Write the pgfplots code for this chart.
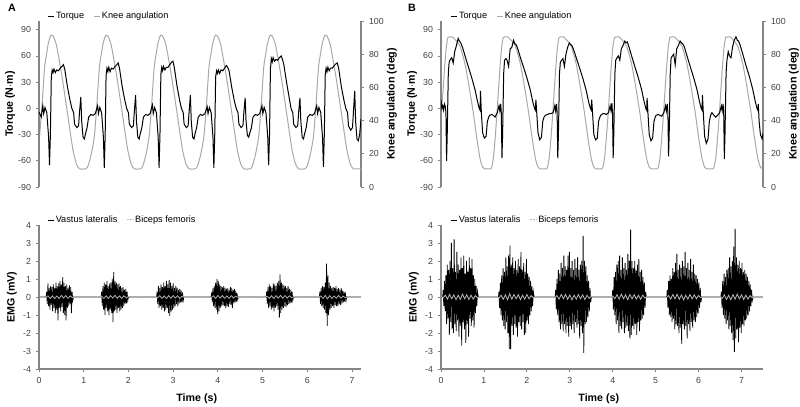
\documentclass[border=0pt]{standalone}
\usepackage{pgfplots}
\pgfplotsset{compat=1.18}
\usepackage{fontspec}
\setmainfont{Liberation Sans}
\definecolor{axgray}{RGB}{134,134,134}
\definecolor{tickgray}{RGB}{64,64,64}
\definecolor{anggray}{RGB}{168,168,168}
\definecolor{bfgray}{RGB}{185,185,185}
\pgfplotsset{
  panel/.style={scale only axis, width=241.5pt,
    axis line style={draw=axgray, line width=0.9pt, -},
    tick style={draw=axgray, line width=0.6pt},
    major tick length=2.5pt, tick align=outside,
    tick label style={font=\fontsize{6.6}{7}\selectfont, text=tickgray},
    label style={font=\bfseries\fontsize{8}{9.6}\selectfont},
    /pgf/number format/assume math mode=true,
    legend columns=2,
    legend style={draw=none, fill=none, font=\fontsize{6.9}{7.5}\selectfont,
      /tikz/every even column/.append style={column sep=6pt}, inner sep=0pt, anchor=west,
      nodes={inner sep=0.8pt}},
    legend image code/.code={\draw[##1] (0pt,0pt) -- (5pt,0pt);},
  },
  toppanel/.style={panel, height=124.5pt, axis x line=none},
  botpanel/.style={panel, height=108pt, axis y line*=left, axis x line*=bottom,
    ymin=-4, ymax=4, ytick={-4,-3,...,4}, xtick={0,1,...,7},
    ylabel={EMG (mV)}, xlabel={Time (s)},
    ylabel style={at={(axis description cs:-0.084,0.5)}, anchor=center},
    xlabel style={at={(axis description cs:0.49,-0.205)}, anchor=center},
    legend style={at={(axis description cs:0.025,1.035)}}},
}
\begin{document}
\begin{tikzpicture}
\useasboundingbox (0,0) rectangle (600pt,305.25pt);
% ================= Panel A top =================
\begin{axis}[toppanel, at={(29.25pt,165pt)}, anchor=south west,
  xmin=0, xmax=7.2, ymin=0, ymax=100, ytick={0,20,...,100},
  axis y line*=right, ylabel={Knee angulation (deg)},
  ylabel style={at={(axis description cs:1.096,0.5)}, anchor=center}]
\addplot[anggray, line width=0.75pt, smooth, tension=0.4] coordinates {
(0,28) (0.015,31) (0.075,52) (0.125,72) (0.175,81) (0.205,86) (0.245,90) (0.275,91.5) (0.315,91) (0.385,86) (0.455,76) (0.535,63) (0.645,43) (0.755,23) (0.835,14) (0.905,11)
(1.05,11) (1.10,13) (1.17,20) (1.24,31) (1.30,52) (1.35,72) (1.40,81) (1.43,86) (1.47,90) (1.50,91.5) (1.54,91) (1.61,86) (1.68,76) (1.76,63) (1.87,43) (1.98,23) (2.06,14) (2.13,11)
(2.275,11) (2.325,13) (2.395,20) (2.465,31) (2.525,52) (2.575,72) (2.625,81) (2.655,86) (2.695,90) (2.725,91.5) (2.765,91) (2.835,86) (2.905,76) (2.985,63) (3.095,43) (3.205,23) (3.285,14) (3.355,11)
(3.50,11) (3.55,13) (3.62,20) (3.69,31) (3.75,52) (3.80,72) (3.85,81) (3.88,86) (3.92,90) (3.95,91.5) (3.99,91) (4.06,86) (4.13,76) (4.21,63) (4.32,43) (4.43,23) (4.51,14) (4.58,11)
(4.725,11) (4.775,13) (4.845,20) (4.915,31) (4.975,52) (5.025,72) (5.075,81) (5.105,86) (5.145,90) (5.175,91.5) (5.215,91) (5.285,86) (5.355,76) (5.435,63) (5.545,43) (5.655,23) (5.735,14) (5.805,11)
(5.95,11) (6.00,13) (6.07,20) (6.14,31) (6.20,52) (6.25,72) (6.30,81) (6.33,86) (6.37,90) (6.40,91.5) (6.44,91) (6.51,86) (6.58,76) (6.66,63) (6.77,43) (6.88,23) (6.96,14) (7.03,11) (7.20,11)
};
\end{axis}
\begin{axis}[toppanel, at={(29.25pt,165pt)}, anchor=south west,
  xmin=0, xmax=7.2, ymin=-90, ymax=100, ytick={-90,-60,...,90},
  axis y line*=left, ylabel={Torque (N$\cdot$m)},
  ylabel style={at={(axis description cs:-0.09,0.5)}, anchor=center},
  legend style={at={(axis description cs:0.025,1.03)}}]
\addplot[black, line width=0.75pt] coordinates {
(0,-4) (0.05,-10) (0.085,3) (0.105,-6) (0.135,1) (0.175,-5) (0.215,-33) (0.235,-65) (0.255,-30) (0.275,36) (0.295,44) (0.315,41) (0.335,45) (0.365,41) (0.395,44) (0.435,43) (0.475,46) (0.515,48) (0.545,50) (0.575,45) (0.635,25) (0.695,9) (0.735,0) (0.775,-5) (0.795,-18) (0.845,-22) (0.885,-20) (0.905,-5) (0.935,13) (0.955,-15) (0.985,-33) (1.015,-35) (1.035,-30) (1.075,-22)
(1.11,-10) (1.16,-7) (1.21,-8) (1.26,-6) (1.31,3) (1.33,-6) (1.36,1) (1.40,-5) (1.44,-33) (1.46,-68) (1.48,-30) (1.50,38) (1.52,46) (1.54,42) (1.56,47) (1.59,42) (1.62,46) (1.66,45) (1.70,48) (1.74,50) (1.77,52) (1.80,46) (1.86,25) (1.92,9) (1.96,0) (2.00,-5) (2.02,-18) (2.07,-22) (2.11,-20) (2.13,-5) (2.16,15) (2.18,-15) (2.21,-33) (2.24,-35) (2.26,-30) (2.30,-22)
(2.335,-10) (2.385,-7) (2.435,-8) (2.485,-6) (2.535,4) (2.555,-6) (2.585,1) (2.625,-5) (2.665,-33) (2.685,-68) (2.705,-30) (2.725,39) (2.745,47) (2.765,43) (2.785,48) (2.815,44) (2.845,47) (2.885,47) (2.925,50) (2.965,53) (2.995,54) (3.025,47) (3.085,26) (3.145,9) (3.185,0) (3.225,-5) (3.245,-18) (3.295,-22) (3.335,-20) (3.355,-5) (3.385,15) (3.405,-15) (3.435,-33) (3.465,-35) (3.485,-30) (3.525,-22)
(3.56,-10) (3.61,-7) (3.66,-8) (3.71,-6) (3.76,2) (3.78,-6) (3.81,1) (3.85,-5) (3.89,-33) (3.91,-68) (3.93,-30) (3.95,36) (3.97,43) (3.99,40) (4.01,44) (4.04,40) (4.07,44) (4.11,43) (4.15,46) (4.19,49) (4.22,47) (4.25,43) (4.31,24) (4.37,8) (4.41,0) (4.45,-5) (4.47,-18) (4.52,-22) (4.56,-20) (4.58,-5) (4.61,12) (4.63,-15) (4.66,-31) (4.69,-33) (4.71,-29) (4.75,-22)
(4.785,-10) (4.835,-7) (4.885,-8) (4.935,-6) (4.985,3) (5.005,-6) (5.035,1) (5.075,-5) (5.115,-33) (5.135,-65) (5.155,-30) (5.175,45) (5.195,57) (5.215,53) (5.235,58) (5.265,54) (5.295,56) (5.335,55) (5.375,58) (5.415,60) (5.445,56) (5.475,50) (5.535,30) (5.595,12) (5.635,0) (5.675,-5) (5.695,-18) (5.745,-22) (5.785,-20) (5.805,-5) (5.835,12) (5.855,-15) (5.885,-33) (5.915,-35) (5.935,-30) (5.975,-22)
(6.01,-10) (6.06,-7) (6.11,-8) (6.16,-6) (6.21,3) (6.23,-6) (6.26,1) (6.30,-5) (6.34,-33) (6.36,-67) (6.38,-30) (6.40,38) (6.42,46) (6.44,42) (6.46,47) (6.49,43) (6.52,46) (6.56,46) (6.60,49) (6.64,51) (6.67,52) (6.70,46) (6.76,25) (6.82,9) (6.86,0) (6.90,-5) (6.92,-20) (6.97,-25) (7.01,-22) (7.03,-5) (7.06,20) (7.08,-15) (7.11,-35) (7.14,-37) (7.17,-30) (7.20,-12)
};
\addlegendentry{Torque}
\addlegendimage{anggray, line width=0.75pt}
\addlegendentry{Knee angulation}
\end{axis}
% ================= Panel A bottom =================
\begin{axis}[botpanel, at={(29.25pt,28.5pt)}, anchor=south west, xmin=0, xmax=7.2]
\addplot[black, line width=0.55pt] coordinates {
(0,0) (0.16,0)
(0.17,0.3) (0.185,-0.4) (0.20,0.75) (0.215,-0.5) (0.23,0.5) (0.245,-0.7) (0.26,0.6) (0.275,-0.45) (0.29,0.55) (0.305,-0.8) (0.32,0.7) (0.335,-0.6) (0.35,0.5) (0.365,-0.9) (0.38,0.8) (0.395,-0.7) (0.41,0.6) (0.425,-1.3) (0.44,0.75) (0.455,-0.6) (0.47,0.9) (0.485,-0.8) (0.50,0.7) (0.515,-0.55) (0.53,1.1) (0.545,-0.9) (0.56,0.8) (0.575,-1.0) (0.59,0.6) (0.605,-1.3) (0.62,0.7) (0.635,-0.6) (0.65,0.5) (0.665,-0.5) (0.68,0.65) (0.695,-0.4) (0.71,0.55) (0.725,-0.9) (0.74,0.3) (0.755,-0.2)
(0.77,0) (1.39,0)
(1.40,0.3) (1.415,-0.5) (1.43,0.6) (1.445,-0.7) (1.46,0.8) (1.475,-1.0) (1.49,0.7) (1.505,-0.6) (1.52,0.9) (1.535,-0.8) (1.55,0.6) (1.565,-1.0) (1.58,0.75) (1.595,-0.7) (1.61,0.8) (1.625,-0.9) (1.64,1.0) (1.655,-1.4) (1.67,1.4) (1.685,-0.8) (1.70,0.9) (1.715,-0.7) (1.73,0.8) (1.745,-0.9) (1.76,0.7) (1.775,-0.6) (1.79,0.75) (1.805,-0.8) (1.82,0.6) (1.835,-0.7) (1.85,0.5) (1.865,-0.6) (1.88,0.55) (1.895,-0.5) (1.91,0.4) (1.925,-0.4) (1.94,0.45) (1.955,-0.35) (1.97,0.3) (1.985,-0.2)
(2.00,0) (2.63,0)
(2.64,0.3) (2.655,-0.4) (2.67,0.6) (2.685,-0.6) (2.70,0.5) (2.715,-0.5) (2.73,0.7) (2.745,-0.7) (2.76,0.55) (2.775,-0.6) (2.79,0.8) (2.805,-0.8) (2.82,0.6) (2.835,-0.7) (2.85,0.9) (2.865,-0.6) (2.88,0.7) (2.895,-0.9) (2.91,0.95) (2.925,-1.05) (2.94,0.8) (2.955,-0.8) (2.97,0.6) (2.985,-0.7) (3.00,0.75) (3.015,-0.6) (3.03,0.5) (3.045,-0.5) (3.06,0.6) (3.075,-0.4) (3.09,0.5) (3.105,-0.5) (3.12,0.4) (3.135,-0.35) (3.15,0.45) (3.165,-0.3) (3.18,0.35) (3.195,-0.3) (3.21,0.25) (3.225,-0.2)
(3.24,0) (3.85,0)
(3.86,0.25) (3.875,-0.3) (3.89,0.5) (3.905,-0.5) (3.92,0.6) (3.935,-0.6) (3.95,0.8) (3.965,-0.7) (3.98,1.0) (3.995,-0.95) (4.01,0.9) (4.025,-0.8) (4.04,0.7) (4.055,-0.6) (4.07,0.6) (4.085,-0.5) (4.10,0.55) (4.115,-0.45) (4.13,0.6) (4.145,-0.5) (4.16,0.5) (4.175,-0.6) (4.19,0.45) (4.205,-0.5) (4.22,0.5) (4.235,-0.55) (4.25,0.4) (4.265,-0.4) (4.28,0.55) (4.295,-0.45) (4.31,0.5) (4.325,-0.6) (4.34,0.4) (4.355,-0.35) (4.37,0.45) (4.385,-0.3) (4.40,0.35) (4.415,-0.25) (4.43,0.2) (4.445,-0.15)
(4.46,0) (5.08,0)
(5.09,0.3) (5.105,-0.4) (5.12,0.55) (5.135,-0.6) (5.15,0.7) (5.165,-0.5) (5.18,0.6) (5.195,-0.7) (5.21,0.5) (5.225,-0.6) (5.24,0.75) (5.255,-0.8) (5.27,0.7) (5.285,-0.6) (5.30,0.6) (5.315,-0.5) (5.33,0.8) (5.345,-0.7) (5.36,0.9) (5.375,-1.15) (5.39,1.25) (5.405,-0.9) (5.42,0.8) (5.435,-0.7) (5.45,0.7) (5.465,-0.6) (5.48,0.65) (5.495,-0.5) (5.51,0.6) (5.525,-0.55) (5.54,0.5) (5.555,-0.45) (5.57,0.6) (5.585,-0.4) (5.60,0.45) (5.615,-0.35) (5.63,0.4) (5.645,-0.3) (5.66,0.3) (5.675,-0.2)
(5.69,0) (6.27,0)
(6.28,0.3) (6.295,-0.4) (6.31,0.5) (6.325,-0.5) (6.34,0.6) (6.355,-0.6) (6.37,0.55) (6.385,-0.7) (6.40,0.8) (6.415,-0.9) (6.43,1.85) (6.445,-1.6) (6.46,1.2) (6.475,-1.0) (6.49,0.8) (6.505,-0.7) (6.52,0.6) (6.535,-0.6) (6.55,0.5) (6.565,-0.5) (6.58,0.55) (6.595,-0.6) (6.61,0.5) (6.625,-0.45) (6.64,0.6) (6.655,-0.5) (6.67,0.45) (6.685,-0.5) (6.70,0.5) (6.715,-0.4) (6.73,0.4) (6.745,-0.45) (6.76,0.5) (6.775,-0.35) (6.79,0.35) (6.805,-0.3) (6.82,0.3) (6.835,-0.25) (6.85,0.25) (6.865,-0.2)
(6.88,0) (7.2,0)
};
\addlegendentry{Vastus lateralis}
\addplot[bfgray, line width=0.55pt, forget plot] coordinates {
(0.00,0.02) (0.05,-0.03) (0.10,0.02) (0.15,-0.03) (0.20,0.06) (0.25,-0.08) (0.30,0.07) (0.35,-0.09) (0.40,0.06) (0.45,-0.08) (0.50,0.09) (0.55,-0.06) (0.60,0.08) (0.65,-0.07) (0.70,0.06) (0.75,-0.04) (0.80,0.02) (0.85,-0.03) (0.90,0.02) (0.95,-0.02) (1.00,0.03) (1.05,-0.02) (1.10,0.02) (1.15,-0.03) (1.20,0.02) (1.25,-0.02) (1.30,0.03) (1.35,-0.02) (1.40,0.05) (1.45,-0.08) (1.50,0.07) (1.55,-0.09) (1.60,0.08) (1.65,-0.06) (1.70,0.09) (1.75,-0.07) (1.80,0.06) (1.85,-0.08) (1.90,0.07) (1.95,-0.05) (2.00,0.03) (2.05,-0.02) (2.10,0.02) (2.15,-0.03) (2.20,0.02) (2.25,-0.02) (2.30,0.03) (2.35,-0.02) (2.40,0.02) (2.45,-0.03) (2.50,0.02) (2.55,-0.02) (2.60,0.03) (2.65,-0.05) (2.70,0.07) (2.75,-0.08) (2.80,0.06) (2.85,-0.09) (2.90,0.08) (2.95,-0.07) (3.00,0.08) (3.05,-0.06) (3.10,0.07) (3.15,-0.08) (3.20,0.05) (3.25,-0.03) (3.30,0.02) (3.35,-0.02) (3.40,0.03) (3.45,-0.02) (3.50,0.02) (3.55,-0.03) (3.60,0.02) (3.65,-0.02) (3.70,0.03) (3.75,-0.02) (3.80,0.02) (3.85,-0.04) (3.90,0.07) (3.95,-0.08) (4.00,0.09) (4.05,-0.06) (4.10,0.08) (4.15,-0.07) (4.20,0.06) (4.25,-0.08) (4.30,0.07) (4.35,-0.06) (4.40,0.05) (4.45,-0.03) (4.50,0.02) (4.55,-0.02) (4.60,0.03) (4.65,-0.02) (4.70,0.02) (4.75,-0.03) (4.80,0.02) (4.85,-0.02) (4.90,0.03) (4.95,-0.02) (5.00,0.02) (5.05,-0.03) (5.10,0.05) (5.15,-0.08) (5.20,0.07) (5.25,-0.09) (5.30,0.08) (5.35,-0.06) (5.40,0.09) (5.45,-0.07) (5.50,0.08) (5.55,-0.06) (5.60,0.07) (5.65,-0.04) (5.70,0.02) (5.75,-0.03) (5.80,0.02) (5.85,-0.02) (5.90,0.03) (5.95,-0.02) (6.00,0.02) (6.05,-0.03) (6.10,0.02) (6.15,-0.02) (6.20,0.03) (6.25,-0.02) (6.30,0.06) (6.35,-0.08) (6.40,0.09) (6.45,-0.10) (6.50,0.07) (6.55,-0.08) (6.60,0.06) (6.65,-0.07) (6.70,0.08) (6.75,-0.06) (6.80,0.05) (6.85,-0.04) (6.90,0.02) (6.95,-0.03) (7.00,0.02) (7.05,-0.02) (7.10,0.03) (7.15,-0.02) (7.20,0.02)
};
\addlegendimage{bfgray, line width=0.7pt, dash pattern=on 1.2pt off 1pt}
\addlegendentry{Biceps femoris}
\end{axis}
% ================= Panel B top =================
\begin{axis}[toppanel, at={(330.75pt,165pt)}, anchor=south west,
  xmin=0, xmax=7.5, ymin=0, ymax=100, ytick={0,20,...,100},
  axis y line*=right, ylabel={Knee angulation (deg)},
  ylabel style={at={(axis description cs:1.096,0.5)}, anchor=center}]
\addplot[anggray, line width=0.75pt, smooth, tension=0.4] coordinates {
(0,45) (0.045,57) (0.083,71.5) (0.122,84) (0.16,90) (0.20,90.5) (0.26,90.5) (0.32,89) (0.44,85) (0.56,74) (0.67,58) (0.75,45) (0.83,30) (0.91,17) (0.97,12) (1.01,11)
(1.16,11) (1.19,13) (1.22,17.5) (1.26,29) (1.30,43) (1.335,57) (1.373,71.5) (1.412,84) (1.45,90) (1.49,90.5) (1.55,90.5) (1.61,89) (1.73,85) (1.85,74) (1.96,58) (2.04,45) (2.12,30) (2.20,17) (2.26,12) (2.30,11)
(2.46,11) (2.49,13) (2.52,17.5) (2.56,29) (2.60,43) (2.635,57) (2.673,71.5) (2.712,84) (2.75,90) (2.79,90.5) (2.85,90.5) (2.91,89) (3.03,85) (3.15,74) (3.26,58) (3.34,45) (3.42,30) (3.50,17) (3.56,12) (3.60,11)
(3.75,11) (3.78,13) (3.81,17.5) (3.85,29) (3.89,43) (3.925,57) (3.963,71.5) (4.002,84) (4.04,90) (4.08,90.5) (4.14,90.5) (4.20,89) (4.32,85) (4.44,74) (4.55,58) (4.63,45) (4.71,30) (4.79,17) (4.85,12) (4.89,11)
(5.04,11) (5.07,13) (5.10,17.5) (5.14,29) (5.18,43) (5.215,57) (5.253,71.5) (5.292,84) (5.33,90) (5.37,90.5) (5.43,90.5) (5.49,89) (5.61,85) (5.73,74) (5.84,58) (5.92,45) (6.00,30) (6.08,17) (6.14,12) (6.18,11)
(6.34,11) (6.37,13) (6.40,17.5) (6.44,29) (6.48,43) (6.515,57) (6.553,71.5) (6.592,84) (6.63,90) (6.67,90.5) (6.73,90.5) (6.79,89) (6.91,85) (7.03,74) (7.14,58) (7.22,45) (7.30,30) (7.38,17) (7.44,12) (7.48,11) (7.5,11)
};
\end{axis}
\begin{axis}[toppanel, at={(330.75pt,165pt)}, anchor=south west,
  xmin=0, xmax=7.5, ymin=-90, ymax=100, ytick={-90,-60,...,90},
  axis y line*=left, ylabel={Torque (N$\cdot$m)},
  ylabel style={at={(axis description cs:-0.09,0.5)}, anchor=center},
  legend style={at={(axis description cs:0.028,1.03)}}]
\addplot[black, line width=0.75pt] coordinates {
(0,10) (0.02,0) (0.04,3) (0.06,-2) (0.08,5) (0.10,2) (0.115,-5) (0.13,-60) (0.145,-30) (0.17,40) (0.19,53) (0.22,56) (0.25,58) (0.285,52) (0.32,65) (0.36,72) (0.40,80) (0.43,77) (0.46,75) (0.50,70) (0.56,60) (0.64,47) (0.71,36) (0.79,22) (0.85,8) (0.89,0) (0.91,-2) (0.92,20) (0.94,-5) (0.97,-28) (1.01,-34) (1.05,-32) (1.08,-15) (1.11,-10)
(1.13,-8) (1.18,-7) (1.22,-8) (1.26,-10) (1.31,-5) (1.35,3) (1.37,-3) (1.39,5) (1.405,-5) (1.42,-57)
(1.435,-30) (1.46,40) (1.48,55) (1.51,57) (1.54,55) (1.575,48) (1.61,68) (1.65,70) (1.69,78) (1.72,74) (1.75,73) (1.79,68) (1.85,58) (1.93,46) (2.00,35) (2.08,21) (2.14,7) (2.18,0) (2.20,-2) (2.21,10) (2.23,-5) (2.26,-28) (2.30,-36) (2.34,-33) (2.37,-15) (2.40,-10)
(2.43,-8) (2.48,-7) (2.52,-6) (2.56,-6) (2.61,-5) (2.65,3) (2.67,-3) (2.69,5) (2.705,-5) (2.72,-57)
(2.735,-30) (2.76,40) (2.78,53) (2.81,55) (2.84,57) (2.875,48) (2.91,62) (2.95,70) (2.99,75) (3.02,73) (3.05,72) (3.09,67) (3.15,58) (3.23,46) (3.30,35) (3.38,21) (3.44,7) (3.48,0) (3.50,-2) (3.51,10) (3.53,-5) (3.56,-30) (3.60,-36) (3.64,-34) (3.67,-15) (3.70,-10)
(3.72,-8) (3.77,-6) (3.81,-6) (3.85,-7) (3.90,-5) (3.94,3) (3.96,-3) (3.98,6) (3.995,-5) (4.01,-57)
(4.025,-30) (4.05,40) (4.07,55) (4.10,58) (4.13,60) (4.165,55) (4.20,68) (4.24,72) (4.28,77) (4.31,75) (4.34,76) (4.38,70) (4.44,60) (4.52,47) (4.59,36) (4.67,22) (4.73,8) (4.77,0) (4.79,-2) (4.80,12) (4.82,-5) (4.85,-30) (4.89,-37) (4.93,-34) (4.96,-15) (4.99,-10)
(5.01,-8) (5.06,-7) (5.10,-8) (5.14,-9) (5.19,-5) (5.23,3) (5.25,-3) (5.27,5) (5.285,-5) (5.30,-55)
(5.315,-30) (5.34,40) (5.36,58) (5.39,60) (5.42,62) (5.455,50) (5.49,68) (5.53,72) (5.57,77) (5.60,75) (5.63,74) (5.67,70) (5.73,60) (5.81,47) (5.88,36) (5.96,22) (6.02,8) (6.06,0) (6.08,-2) (6.09,15) (6.11,-5) (6.14,-32) (6.18,-40) (6.22,-35) (6.25,-15) (6.28,-8)
(6.31,-5) (6.36,-8) (6.40,-10) (6.44,-8) (6.49,-5) (6.53,3) (6.55,-3) (6.57,5) (6.585,-5) (6.60,-58)
(6.615,-30) (6.64,40) (6.66,55) (6.69,65) (6.72,60) (6.755,58) (6.79,70) (6.83,78) (6.87,82) (6.90,78) (6.93,77) (6.97,72) (7.03,62) (7.11,48) (7.18,37) (7.26,22) (7.32,8) (7.36,0) (7.38,-2) (7.39,5) (7.41,-15) (7.44,-30) (7.48,-35) (7.5,-28)
};
\addlegendentry{Torque}
\addlegendimage{anggray, line width=0.75pt}
\addlegendentry{Knee angulation}
\end{axis}
% ================= Panel B bottom =================
\begin{axis}[botpanel, at={(330.75pt,28.5pt)}, anchor=south west, xmin=0, xmax=7.5,
  legend style={at={(axis description cs:0.028,1.035)}}]
\addplot[black, line width=0.6pt] coordinates {
(0,0) (0.04,0)
(0.05,0.4) (0.066,-0.5) (0.082,0.9) (0.098,-0.8) (0.114,1.2) (0.13,-1.5) (0.146,1.8) (0.162,-1.2) (0.178,1.5) (0.194,-2.1) (0.21,2.0) (0.226,-1.4) (0.242,3.0) (0.258,-1.8) (0.274,1.6) (0.29,-2.0) (0.306,3.2) (0.322,-1.5) (0.338,1.4) (0.354,-1.9) (0.37,2.5) (0.386,-1.3) (0.402,1.8) (0.418,-2.2) (0.434,1.5) (0.45,-1.6) (0.466,2.2) (0.482,-2.7) (0.498,1.6) (0.514,-1.4) (0.53,2.3) (0.546,-1.8) (0.562,1.3) (0.578,-2.55) (0.594,2.0) (0.61,-1.5) (0.626,1.4) (0.642,-2.2) (0.658,2.2) (0.674,-1.2) (0.69,1.6) (0.706,-1.6) (0.722,2.1) (0.738,-1.3) (0.754,1.2) (0.77,-1.7) (0.786,1.0) (0.802,-0.9) (0.818,0.6) (0.834,-0.5) (0.85,0.3)
(0.87,0) (1.34,0)
(1.35,0.3) (1.366,-0.6) (1.382,0.8) (1.398,-1.0) (1.414,1.2) (1.43,-1.3) (1.446,1.6) (1.462,-1.6) (1.478,1.4) (1.494,-1.8) (1.51,2.2) (1.526,-1.4) (1.542,1.7) (1.558,-2.0) (1.574,2.3) (1.59,-2.9) (1.606,2.85) (1.622,-2.9) (1.638,1.8) (1.654,-1.6) (1.67,2.2) (1.686,-2.1) (1.702,1.6) (1.718,-1.5) (1.734,2.0) (1.75,-1.7) (1.766,1.5) (1.782,-2.2) (1.798,2.1) (1.814,-1.4) (1.83,1.7) (1.846,-1.6) (1.862,2.5) (1.878,-1.8) (1.894,1.5) (1.91,-1.4) (1.926,1.9) (1.942,-2.1) (1.958,1.4) (1.974,-2.0) (1.99,2.1) (2.006,-1.3) (2.022,1.3) (2.038,-1.5) (2.054,1.1) (2.07,-1.0) (2.086,0.9) (2.102,-0.8) (2.118,0.6) (2.134,-0.5) (2.15,0.3)
(2.17,0) (2.66,0)
(2.67,0.4) (2.686,-0.7) (2.702,1.0) (2.718,-1.0) (2.734,1.5) (2.75,-1.4) (2.766,1.3) (2.782,-1.8) (2.798,1.9) (2.814,-1.5) (2.83,1.6) (2.846,-1.9) (2.862,2.3) (2.878,-1.5) (2.894,1.7) (2.91,-2.0) (2.926,1.5) (2.942,-1.6) (2.958,2.3) (2.974,-2.2) (2.99,2.5) (3.006,-1.6) (3.022,1.6) (3.038,-1.8) (3.054,2.0) (3.07,-1.5) (3.086,1.5) (3.102,-2.0) (3.118,2.1) (3.134,-1.4) (3.15,1.6) (3.166,-1.7) (3.182,2.2) (3.198,-1.5) (3.214,1.5) (3.23,-2.3) (3.246,1.8) (3.262,-1.6) (3.278,2.0) (3.294,-2.0) (3.31,3.4) (3.326,-3.1) (3.342,2.0) (3.358,-1.5) (3.374,1.7) (3.39,-1.4) (3.406,1.2) (3.422,-1.1) (3.438,0.9) (3.454,-0.8) (3.47,0.5) (3.486,-0.3)
(3.50,0) (3.99,0)
(4.0,0.4) (4.016,-0.7) (4.032,1.1) (4.048,-1.0) (4.064,1.4) (4.08,-1.5) (4.096,1.8) (4.112,-1.3) (4.128,2.0) (4.144,-2.0) (4.16,2.3) (4.176,-1.6) (4.192,1.5) (4.208,-1.8) (4.224,2.2) (4.24,-1.4) (4.256,1.6) (4.272,-2.0) (4.288,1.9) (4.304,-1.7) (4.32,1.5) (4.336,-1.6) (4.352,2.4) (4.368,-1.9) (4.384,2.0) (4.40,-2.3) (4.416,3.75) (4.432,-2.1) (4.448,2.0) (4.464,-1.6) (4.48,1.6) (4.496,-1.8) (4.512,2.0) (4.528,-1.5) (4.544,1.5) (4.56,-2.1) (4.576,1.8) (4.592,-1.4) (4.608,2.1) (4.624,-1.9) (4.64,1.4) (4.656,-1.3) (4.672,1.5) (4.688,-1.2) (4.704,1.1) (4.72,-1.0) (4.736,0.8) (4.752,-0.6) (4.768,0.3)
(4.78,0) (5.26,0)
(5.27,0.4) (5.286,-0.6) (5.302,0.9) (5.318,-1.0) (5.334,1.2) (5.35,-1.1) (5.366,1.0) (5.382,-1.4) (5.398,1.6) (5.414,-1.2) (5.43,1.4) (5.446,-1.8) (5.462,1.9) (5.478,-1.5) (5.494,2.4) (5.51,-1.6) (5.526,1.5) (5.542,-2.0) (5.558,1.8) (5.574,-1.7) (5.59,1.6) (5.606,-2.6) (5.622,2.0) (5.638,-1.5) (5.654,1.7) (5.67,-1.8) (5.686,2.5) (5.702,-1.6) (5.718,1.6) (5.734,-2.3) (5.75,1.9) (5.766,-1.5) (5.782,1.5) (5.798,-1.9) (5.814,2.1) (5.83,-1.4) (5.846,1.4) (5.862,-1.7) (5.878,1.8) (5.894,-1.3) (5.91,1.3) (5.926,-1.4) (5.942,1.2) (5.958,-1.1) (5.974,1.0) (5.99,-0.9) (6.006,0.8) (6.022,-0.6) (6.038,0.5) (6.054,-0.3)
(6.07,0) (6.52,0)
(6.53,0.3) (6.546,-0.6) (6.562,0.9) (6.578,-1.0) (6.594,1.3) (6.61,-1.2) (6.626,1.1) (6.642,-1.5) (6.658,1.5) (6.674,-1.3) (6.69,1.6) (6.706,-1.8) (6.722,2.2) (6.738,-1.6) (6.754,1.7) (6.77,-2.0) (6.786,2.0) (6.802,-2.4) (6.818,2.8) (6.834,-3.05) (6.85,3.8) (6.866,-2.3) (6.882,2.2) (6.898,-1.8) (6.914,1.8) (6.93,-2.5) (6.946,2.0) (6.962,-1.7) (6.978,1.6) (6.994,-2.0) (7.01,1.9) (7.026,-1.5) (7.042,1.4) (7.058,-1.6) (7.074,1.5) (7.09,-1.3) (7.106,1.3) (7.122,-1.2) (7.138,1.1) (7.154,-1.0) (7.17,0.9) (7.186,-0.8) (7.202,0.7) (7.218,-0.5) (7.234,0.4) (7.25,-0.2)
(7.27,0) (7.5,0)
};
\addlegendentry{Vastus lateralis}
\addplot[bfgray, line width=0.6pt, forget plot] coordinates {
(0.00,0.03) (0.05,-0.05) (0.10,0.10) (0.15,-0.12) (0.20,0.15) (0.25,-0.10) (0.30,0.12) (0.35,-0.15) (0.40,0.10) (0.45,-0.13) (0.50,0.16) (0.55,-0.10) (0.60,0.12) (0.65,-0.14) (0.70,0.10) (0.75,-0.12) (0.80,0.08) (0.85,-0.05) (0.90,0.03) (0.95,-0.02) (1.00,0.03) (1.05,-0.03) (1.10,0.02) (1.15,-0.03) (1.20,0.03) (1.25,-0.02) (1.30,0.03) (1.35,-0.06) (1.40,0.10) (1.45,-0.13) (1.50,0.12) (1.55,-0.15) (1.60,0.18) (1.65,-0.12) (1.70,0.14) (1.75,-0.10) (1.80,0.13) (1.85,-0.15) (1.90,0.10) (1.95,-0.12) (2.00,0.14) (2.05,-0.10) (2.10,0.08) (2.15,-0.05) (2.20,0.03) (2.25,-0.02) (2.30,0.03) (2.35,-0.03) (2.40,0.02) (2.45,-0.03) (2.50,0.03) (2.55,-0.02) (2.60,0.03) (2.65,-0.04) (2.70,0.08) (2.75,-0.12) (2.80,0.14) (2.85,-0.10) (2.90,0.15) (2.95,-0.13) (3.00,0.12) (3.05,-0.16) (3.10,0.10) (3.15,-0.12) (3.20,0.14) (3.25,-0.10) (3.30,0.12) (3.35,-0.14) (3.40,0.10) (3.45,-0.08) (3.50,0.04) (3.55,-0.03) (3.60,0.02) (3.65,-0.03) (3.70,0.03) (3.75,-0.02) (3.80,0.03) (3.85,-0.03) (3.90,0.02) (3.95,-0.03) (4.00,0.06) (4.05,-0.10) (4.10,0.13) (4.15,-0.12) (4.20,0.16) (4.25,-0.10) (4.30,0.12) (4.35,-0.15) (4.40,0.14) (4.45,-0.10) (4.50,0.13) (4.55,-0.12) (4.60,0.10) (4.65,-0.13) (4.70,0.10) (4.75,-0.06) (4.80,0.03) (4.85,-0.02) (4.90,0.03) (4.95,-0.03) (5.00,0.02) (5.05,-0.03) (5.10,0.03) (5.15,-0.02) (5.20,0.03) (5.25,-0.04) (5.30,0.08) (5.35,-0.12) (5.40,0.14) (5.45,-0.10) (5.50,0.15) (5.55,-0.13) (5.60,0.12) (5.65,-0.16) (5.70,0.10) (5.75,-0.12) (5.80,0.14) (5.85,-0.10) (5.90,0.12) (5.95,-0.10) (6.00,0.08) (6.05,-0.05) (6.10,0.03) (6.15,-0.02) (6.20,0.03) (6.25,-0.03) (6.30,0.02) (6.35,-0.03) (6.40,0.03) (6.45,-0.02) (6.50,0.03) (6.55,-0.08) (6.60,0.12) (6.65,-0.14) (6.70,0.10) (6.75,-0.15) (6.80,0.13) (6.85,-0.12) (6.90,0.16) (6.95,-0.10) (7.00,0.12) (7.05,-0.14) (7.10,0.10) (7.15,-0.12) (7.20,0.08) (7.25,-0.05) (7.30,0.03) (7.35,-0.02) (7.40,0.03) (7.45,-0.03) (7.50,0.02)
};
\addlegendimage{bfgray, line width=0.7pt, dash pattern=on 1.2pt off 1pt}
\addlegendentry{Biceps femoris}
\end{axis}
% panel letters
\node[font=\bfseries\fontsize{8}{9.6}\selectfont] at (9pt,299.25pt) {A};
\node[font=\bfseries\fontsize{8}{9.6}\selectfont] at (309pt,299.25pt) {B};
\end{tikzpicture}
\end{document}
